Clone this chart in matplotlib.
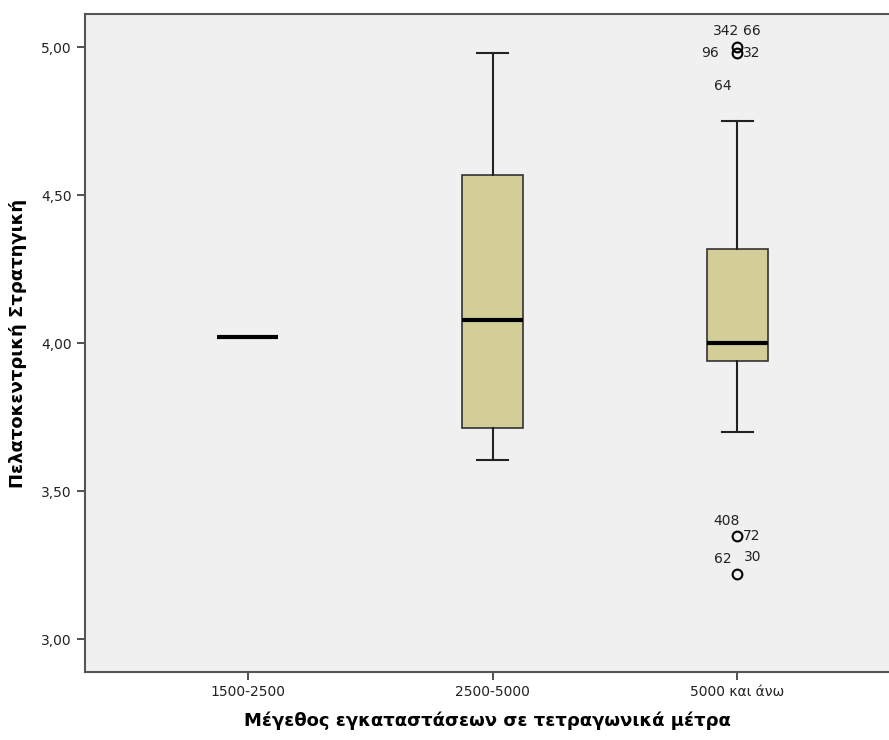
import matplotlib
matplotlib.use("Agg")
import matplotlib.pyplot as plt

# box statistics per size group
groups = ["1500-2500", "2500-5000", "5000 και άνω"]
medians = [4.02, 4.08, 4.00]
q1 = [4.02, 3.713, 3.94]
q3 = [4.02, 4.567, 4.318]
whis_lo = [4.02, 3.605, 3.70]
whis_hi = [4.02, 4.98, 4.75]

# outliers of the third group and their case labels
out_vals = [5.00, 4.98, 3.35, 3.22]
case_labels = ["342", "66", "96", "32", "64", "408", "72", "62", "30"]
# label placement (x offset from group, y in data units)
label_dx = [-0.045, 0.06, -0.11, 0.06, -0.06, -0.045, 0.06, -0.057, 0.065]
label_y = [5.054, 5.054, 4.98, 4.98, 4.87, 3.40, 3.35, 3.27, 3.277]

plt.rcParams['font.family'] = ['DejaVu Sans']

fig = plt.figure(figsize=(8.89, 7.40), dpi=100)
ax = fig.add_axes([0.0956, 0.0919, 0.9044, 0.8892])
ax.set_facecolor("#f0f0f0")

stats = []
for i in range(len(groups)):
    stats.append({"med": medians[i], "q1": q1[i], "q3": q3[i],
                  "whislo": whis_lo[i], "whishi": whis_hi[i], "fliers": []})

ax.bxp(stats, positions=[1, 2, 3], widths=0.25, patch_artist=True,
       showfliers=False,
       boxprops=dict(facecolor="#d3ce98", edgecolor="#333333", linewidth=1.2),
       medianprops=dict(color="black", linewidth=3),
       whiskerprops=dict(color="#222222", linewidth=1.5),
       capprops=dict(color="#222222", linewidth=1.5),
       capwidths=0.125)

# outlier circles
ax.plot([3] * len(out_vals), out_vals, "o", mfc="none", mec="black",
        mew=1.5, ms=7, ls="none")
for lab, dx, y in zip(case_labels, label_dx, label_y):
    ax.text(3 + dx, y, lab, ha="center", va="center", fontsize=10,
            color="#222222")

ax.set_xlim(0.335, 3.62)
ax.set_ylim(2.89, 5.112)
ax.set_xticks([1, 2, 3])
ax.set_xticklabels(groups, fontsize=10)
ax.set_yticks([3.0, 3.5, 4.0, 4.5, 5.0])
ax.set_yticklabels(["3,00", "3,50", "4,00", "4,50", "5,00"], fontsize=10)
ax.tick_params(direction="out", length=6, width=1.2, color="#333333",
               labelcolor="#222222")
for side in ["left", "bottom", "top"]:
    ax.spines[side].set_color("#555555")
    ax.spines[side].set_linewidth(1.5)
ax.spines["right"].set_visible(False)

ax.set_xlabel("Μέγεθος εγκαταστάσεων σε τετραγωνικά μέτρα", fontsize=13,
              fontweight="bold", labelpad=9)
ax.set_ylabel("Πελατοκεντρική Στρατηγική", fontsize=13, fontweight="bold",
              labelpad=10)

fig.savefig("out.png", dpi=100)
